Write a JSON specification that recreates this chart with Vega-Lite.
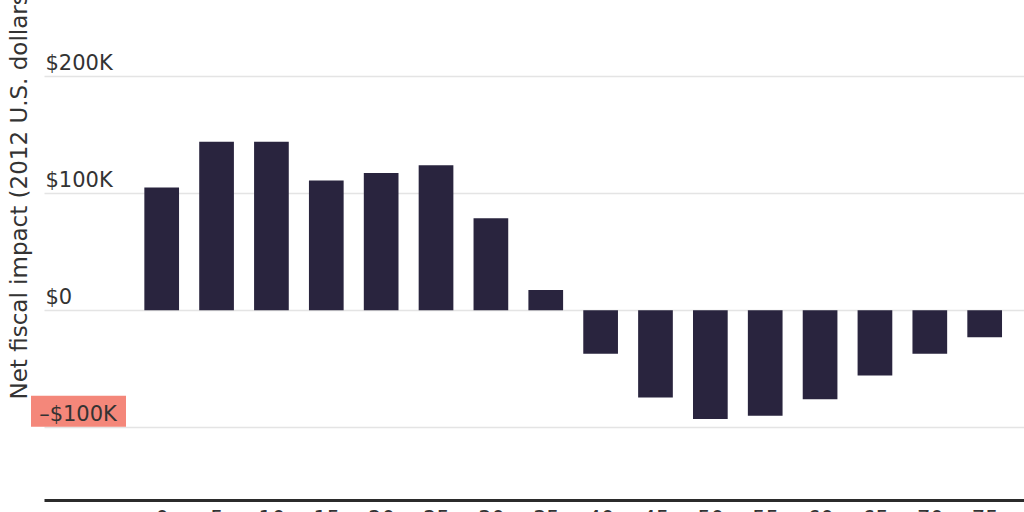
{
  "$schema": "https://vega.github.io/schema/vega-lite/v6.json",
  "width": 980,
  "height": 500,
  "autosize": "none",
  "padding": {"left": 44, "top": 0, "right": 0, "bottom": 12},
  "background": "white",
  "config": {"view": {"stroke": null}, "font": "DejaVu Sans"},
  "datasets": {
    "impact": [
      {"age": 0, "impact": 105000},
      {"age": 5, "impact": 144000},
      {"age": 10, "impact": 144000},
      {"age": 15, "impact": 111000},
      {"age": 20, "impact": 117400},
      {"age": 25, "impact": 123900},
      {"age": 30, "impact": 78600},
      {"age": 35, "impact": 17400},
      {"age": 40, "impact": -37100},
      {"age": 45, "impact": -74400},
      {"age": 50, "impact": -92900},
      {"age": 55, "impact": -90100},
      {"age": 60, "impact": -76100},
      {"age": 65, "impact": -55600},
      {"age": 70, "impact": -37100},
      {"age": 75, "impact": -23100}
    ],
    "highlight": [{"tick": -100000, "label": "–$100K"}]
  },
  "layer": [
    {
      "data": {"name": "impact"},
      "mark": {"type": "bar", "color": "#29243e", "width": 34.7},
      "encoding": {
        "x": {
          "field": "age",
          "type": "quantitative",
          "scale": {"domain": [-10.726, 78.584], "nice": false, "zero": false, "padding": 0},
          "axis": {
            "title": null,
            "values": [0, 5, 10, 15, 20, 25, 30, 35, 40, 45, 50, 55, 60, 65, 70, 75],
            "format": "d",
            "labelAngle": 0,
            "ticks": false,
            "domain": true,
            "domainColor": "#2b2b2b",
            "domainWidth": 3,
            "labelFontSize": 21,
            "labelColor": "#333333",
            "labelPadding": 8,
            "labelBaseline": "top",
            "labelFlush": false,
            "labelOverlap": false,
            "grid": false
          }
        },
        "y": {
          "field": "impact",
          "type": "quantitative",
          "scale": {"domain": [-162100, 265200], "nice": false, "zero": false},
          "axis": {
            "title": "Net fiscal impact (2012 U.S. dollars)",
            "values": [-100000, 0, 100000, 200000],
            "labelExpr": "datum.value == -100000 ? '' : (datum.value == 0 ? '$0' : '$' + format(datum.value / 1000, 'd') + 'K')",
            "labelAlign": "left",
            "labelBaseline": "alphabetic",
            "labelPadding": -1,
            "labelOffset": -7,
            "labelFlush": false,
            "labelOverlap": false,
            "labelFontSize": 21,
            "labelColor": "#333333",
            "ticks": false,
            "domain": false,
            "grid": true,
            "gridColor": "#e4e4e4",
            "gridWidth": 1.5,
            "titleFontSize": 23,
            "titleFontWeight": "normal",
            "titleColor": "#333333",
            "titleAngle": -90,
            "titleAlign": "left",
            "titleBaseline": "alphabetic",
            "titleX": -18,
            "titleY": 399
          }
        }
      }
    },
    {
      "data": {"name": "highlight"},
      "mark": {
        "type": "point",
        "shape": "M -1 -0.326 H 1 V 0.326 H -1 Z",
        "filled": true,
        "color": "#f4877a",
        "opacity": 1,
        "size": 9025,
        "yOffset": -16
      },
      "encoding": {
        "x": {"value": 34.5},
        "y": {"field": "tick", "type": "quantitative"}
      }
    },
    {
      "data": {"name": "highlight"},
      "mark": {
        "type": "text",
        "align": "center",
        "baseline": "alphabetic",
        "dy": -6,
        "fontSize": 21,
        "color": "#333333"
      },
      "encoding": {
        "x": {"value": 34},
        "y": {"field": "tick", "type": "quantitative"},
        "text": {"field": "label"}
      }
    }
  ]
}
